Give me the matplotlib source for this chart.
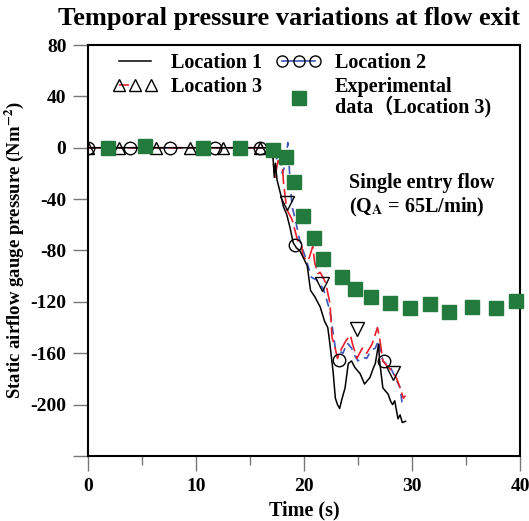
import matplotlib
matplotlib.use("Agg")
import matplotlib.pyplot as plt
from matplotlib.lines import Line2D
from matplotlib.legend_handler import HandlerLine2D

plt.rcParams['font.family'] = ['Liberation Serif', 'Noto Sans CJK SC', 'DejaVu Sans']
plt.rcParams['font.weight'] = 'bold'
plt.rcParams['mathtext.fontset'] = 'stix'

# ---------------- data ----------------
loc1_t = [0, 16.9, 17.1, 17.25, 17.35, 17.5, 17.8, 18.1, 18.4, 18.7, 19.0, 19.3, 19.6, 19.9, 20.3,
          20.6, 21.0, 21.5, 21.9, 22.2, 22.4, 22.7, 22.9, 23.1, 23.3, 23.5, 23.8, 24.1, 24.4, 24.7,
          25.0, 25.2, 25.6, 26.1, 26.4, 26.6, 26.9, 27.0, 27.3, 27.6, 27.8, 28.0, 28.2, 28.4, 28.7,
          28.9, 29.1, 29.4]
loc1_p = [0, 0, -4, -23, -12, -25, -35, -46, -52, -62, -74, -78, -80, -85, -92,
          -111, -116, -124, -135, -140, -153, -175, -195, -200, -203, -196, -187, -168, -166, -171,
          -174, -176, -184, -179, -172, -168, -153, -166, -187, -190, -192, -197, -200, -197, -211,
          -208, -214, -213]

loc2_t = [0, 17.0, 17.4, 17.7, 18.0, 18.3, 18.5, 18.7, 18.9, 19.2, 19.6, 20.0, 20.3, 20.7, 21.2,
          21.8, 22.4, 22.9, 23.2, 23.6, 24.0, 24.4, 24.7, 25.0, 25.4, 25.8, 26.2, 26.6, 26.9, 27.1,
          27.3, 27.7, 28.0, 28.4, 28.9, 29.1]
loc2_p = [0, 0, -10, -3, -20, -12, 4, -25, -46, -56, -72, -82, -90, -101, -103,
          -110, -127, -156, -158, -160, -152, -156, -162, -166, -163, -164, -158, -156, -150, -158,
          -166, -169, -171, -178, -187, -200]
loc2_mark_t = [0, 3.9, 7.6, 11.8, 15.9, 19.2, 23.2, 27.4]
loc2_mark_p = [0, 0, 0, 0, 0, -76, -165, -166]

loc3_t = [0, 17.0, 17.1, 17.3, 17.6, 18.0, 18.1, 18.4, 18.9, 19.4, 19.8, 19.9, 20.4, 20.8, 21.0,
          21.3, 21.5, 22.0, 22.4, 22.6, 22.8, 23.1, 23.5, 23.9, 24.3, 24.5, 24.9, 25.4, 25.8, 26.3,
          26.8, 27.0, 27.3, 27.8, 28.2, 28.6, 28.9, 29.2, 29.4]
loc3_p = [0, 0, -7, -23, -10, -15, -27, -48, -56, -72, -77, -85, -88, -77, -90,
          -98, -97, -105, -121, -148, -153, -164, -156, -150, -146, -153, -164, -156, -160, -153,
          -140, -148, -166, -171, -174, -180, -187, -195, -193]
loc3_up_t = [0, 2.9, 6.3, 9.4, 12.5, 15.9]
loc3_up_p = [0, 0, 0, 0, 0, 0]
loc3_dn_t = [18.4, 21.7, 24.9, 28.2]
loc3_dn_p = [-43, -106, -141, -175]

exp_t = [1.85, 5.3, 10.6, 14.1, 17.1, 18.3, 19.1, 19.9, 20.9, 21.8, 23.5, 24.7, 26.2, 28.0,
         29.8, 31.7, 33.4, 35.6, 37.8, 39.6]
exp_p = [0, 1.5, 0, 0, -1.5, -7, -27, -53, -70, -87, -101, -110, -116, -121,
         -125, -122, -128, -124, -125, -119]

x_ticks = [0, 10, 20, 30, 40]
x_minor = [5, 15, 25, 35]
y_ticks = [-240, -200, -160, -120, -80, -40, 0, 40, 80]
y_labels = ['', '-200', '-160', '-120', '-80', '-40', '0', '40', '80']

# ---------------- figure ----------------
fig = plt.figure(figsize=(5.29, 5.21), dpi=100)
ax = fig.add_axes([0.1664, 0.1248, 0.8166, 0.7888])

blue = '#3a55b8'
red = '#e8202a'
green = '#237a3d'

ax.plot(loc2_t, loc2_p, color=blue, lw=1.2, ls=(0, (5, 3.5)), zorder=2)
ax.plot(loc3_t, loc3_p, color=red, lw=1.2, ls=(0, (9, 3)), zorder=3)
ax.plot(loc1_t, loc1_p, color='black', lw=1.1, zorder=4)
ax.plot(loc2_mark_t, loc2_mark_p, ls='none', marker='o', ms=9, mfc='none', mec='black', mew=1.0, zorder=5)
ax.plot(loc3_up_t, loc3_up_p, ls='none', marker='^', ms=9, mfc='none', mec='black', mew=1.0, zorder=5)
ax.plot(loc3_dn_t, loc3_dn_p, ls='none', marker='v', ms=10, mfc='none', mec='black', mew=1.0, zorder=5)
ax.plot(exp_t, exp_p, ls='none', marker='s', ms=10.5, mfc=green, mec=green, zorder=6, clip_on=False)

ax.set_xlim(0, 40)
ax.set_ylim(-240, 80)
ax.set_xticks(x_ticks)
ax.set_xticks(x_minor, minor=True)
ax.set_yticks(y_ticks)
ax.set_yticklabels(y_labels)
ax.tick_params(axis='both', which='major', direction='out', length=10.5, width=1.0,
               color='#777777', labelsize=14, pad=5)
ax.tick_params(axis='x', which='minor', direction='out', length=6.5, width=1.0, color='#777777')
for lab in ax.get_xticklabels() + ax.get_yticklabels():
    lab.set_fontweight('bold')
for sp in ax.spines.values():
    sp.set_linewidth(1.5)

ax.set_xlabel('Time (s)', fontsize=14.5, fontweight='bold', labelpad=4)
ax.set_ylabel('Static airflow gauge pressure (Nm$^{\\mathbf{-2}}$)', fontsize=13.5,
              fontweight='bold', labelpad=3)
fig.text(0.547, 0.965, 'Temporal pressure variations at flow exit', ha='center', va='center',
         fontsize=19, fontweight='bold')

ax.text(0.605, 0.633, 'Single entry flow\n(Q$_{\\mathbf{A}}$ = 65L/min)', transform=ax.transAxes,
        fontsize=14.5, fontweight='bold', ha='left', va='center', linespacing=1.15)

# legend
h1 = Line2D([], [], color='black', lw=1.1)
h2 = Line2D([], [], color=blue, lw=1.2, marker='o', ms=8, mfc='none', mec='black', mew=1.0)
h3 = Line2D([], [], color=red, lw=1.2, ls=(0, (6, 14)), marker='^', ms=8, mfc='none', mec='black', mew=1.0)
h4 = Line2D([], [], ls='none', marker='s', ms=10.5, mfc=green, mec=green)
leg = ax.legend([h1, h3, h2, h4],
                ['Location 1', 'Location 3', 'Location 2', 'Experimental\ndata\uff08Location 3)'],
                ncol=2, loc='upper left', bbox_to_anchor=(0.02, 1.02), frameon=False,
                prop={'family': ['Liberation Serif', 'Noto Sans CJK SC'], 'weight': 'bold', 'size': 14.5},
                handlelength=2.2, handletextpad=0.7, columnspacing=0.7, labelspacing=0.2,
                numpoints=3, borderpad=0.3,
                handler_map={h4: HandlerLine2D(numpoints=1)})
leg.get_texts()[3].set_linespacing(0.95)

fig.savefig('out.png', dpi=100)
